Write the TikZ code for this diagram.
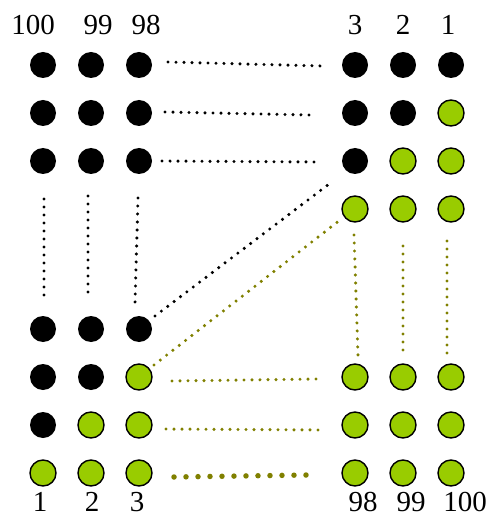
\documentclass[tikz,border=0pt]{standalone}
\usepackage{fontspec}
\setmainfont{Liberation Serif}
\usetikzlibrary{calc}
\definecolor{leaf}{HTML}{99CC00}
\definecolor{olivedot}{HTML}{808000}

\begin{document}
\begin{tikzpicture}[x=1pt,y=-1pt,
    bead/.style={circle,inner sep=0pt,minimum size=26pt},
    blk/.style={bead,fill=black},
    grn/.style={bead,fill=leaf,draw=black,line width=1.4pt},
    blkdots/.style={line width=3.4pt,line cap=round,dash pattern=on 0pt off 8pt,black},
    olvdots/.style={line width=3.4pt,line cap=round,dash pattern=on 0pt off 8pt,olivedot},
    fatdots/.style={line width=5.5pt,line cap=round,dash pattern=on 0pt off 12pt,olivedot},
    num/.style={font=\fontsize{29}{30}\selectfont,inner sep=0pt,anchor=base}
]
\useasboundingbox (0,0) rectangle (488,518);

% left block, columns a b c = 100 99 98 (top) / 1 2 3 (bottom)
\foreach \r/\y/\sa/\sb/\sc in {1/65/blk/blk/blk,2/113/blk/blk/blk,3/161/blk/blk/blk,
    4/329/blk/blk/blk,5/377/blk/blk/grn,6/425/blk/grn/grn,7/473/grn/grn/grn}{
  \node[\sa] (L\r-a) at (43,\y) {};
  \node[\sb] (L\r-b) at (91,\y) {};
  \node[\sc] (L\r-c) at (139,\y) {};
}
% right block, columns d e f = 3 2 1 (top) / 98 99 100 (bottom)
\foreach \r/\y/\sd/\se/\sf in {1/65/blk/blk/blk,2/113/blk/blk/grn,3/161/blk/grn/grn,
    4/209/grn/grn/grn,5/377/grn/grn/grn,6/425/grn/grn/grn,7/473/grn/grn/grn}{
  \node[\sd] (R\r-d) at (355,\y) {};
  \node[\se] (R\r-e) at (403,\y) {};
  \node[\sf] (R\r-f) at (451,\y) {};
}

% labels
\node[num] (t100) at (33,35) {100};
\node[num] (t99) at (98,35) {99};
\node[num] (t98) at (146,35) {98};
\node[num] (t3) at (355,35) {3};
\node[num] (t2) at (403,35) {2};
\node[num] (t1) at (448,35) {1};
\node[num] (b1) at (40,511) {1};
\node[num] (b2) at (92,511) {2};
\node[num] (b3) at (137,511) {3};
\node[num] (b98) at (363,511) {98};
\node[num] (b99) at (411,511) {99};
\node[num] (b100) at (465,511) {100};

% black dotted
\draw[blkdots] ($(L1-c)+(29,-3)$) -- ($(R1-d)+(-33,1)$);
\draw[blkdots] ($(L2-c)+(26,-1)$) -- ($(R2-d)+(-45,2)$);
\draw[blkdots] ($(L3-c)+(23,0)$) -- ($(R3-d)+(-39,1)$);
\draw[blkdots] ($(L3-a)+(1,38)$) -- ($(L4-a)+(1,-34)$);
\draw[blkdots] ($(L3-b)+(-3,35)$) -- ($(L4-b)+(-3,-30)$);
\draw[blkdots] ($(L3-c)+(-1,37)$) -- ($(L4-c)+(-4,-26)$);
\draw[blkdots] ($(L4-c)+(16,-13)$) -- ($(R3-d)+(-22,20)$);

% olive dotted
\draw[olvdots] ($(L5-c)+(15,-12)$) -- ($(R4-d)+(-15,11)$);
\draw[olvdots] ($(R4-d)+(-1,26)$) -- ($(R5-d)+(3,-22)$);
\draw[olvdots] ($(R4-e)+(0,37)$) -- ($(R5-e)+(0,-27)$);
\draw[olvdots] ($(R4-f)+(-4,32)$) -- ($(R5-f)+(-4,-24)$);
\draw[olvdots] ($(L5-c)+(33,4)$) -- ($(R5-d)+(-37,2)$);
\draw[olvdots] ($(L6-c)+(27,4)$) -- ($(R6-d)+(-35,5)$);
\draw[fatdots] ($(L7-c)+(35,4)$) -- ($(R7-d)+(-48,2)$);
\end{tikzpicture}
\end{document}
